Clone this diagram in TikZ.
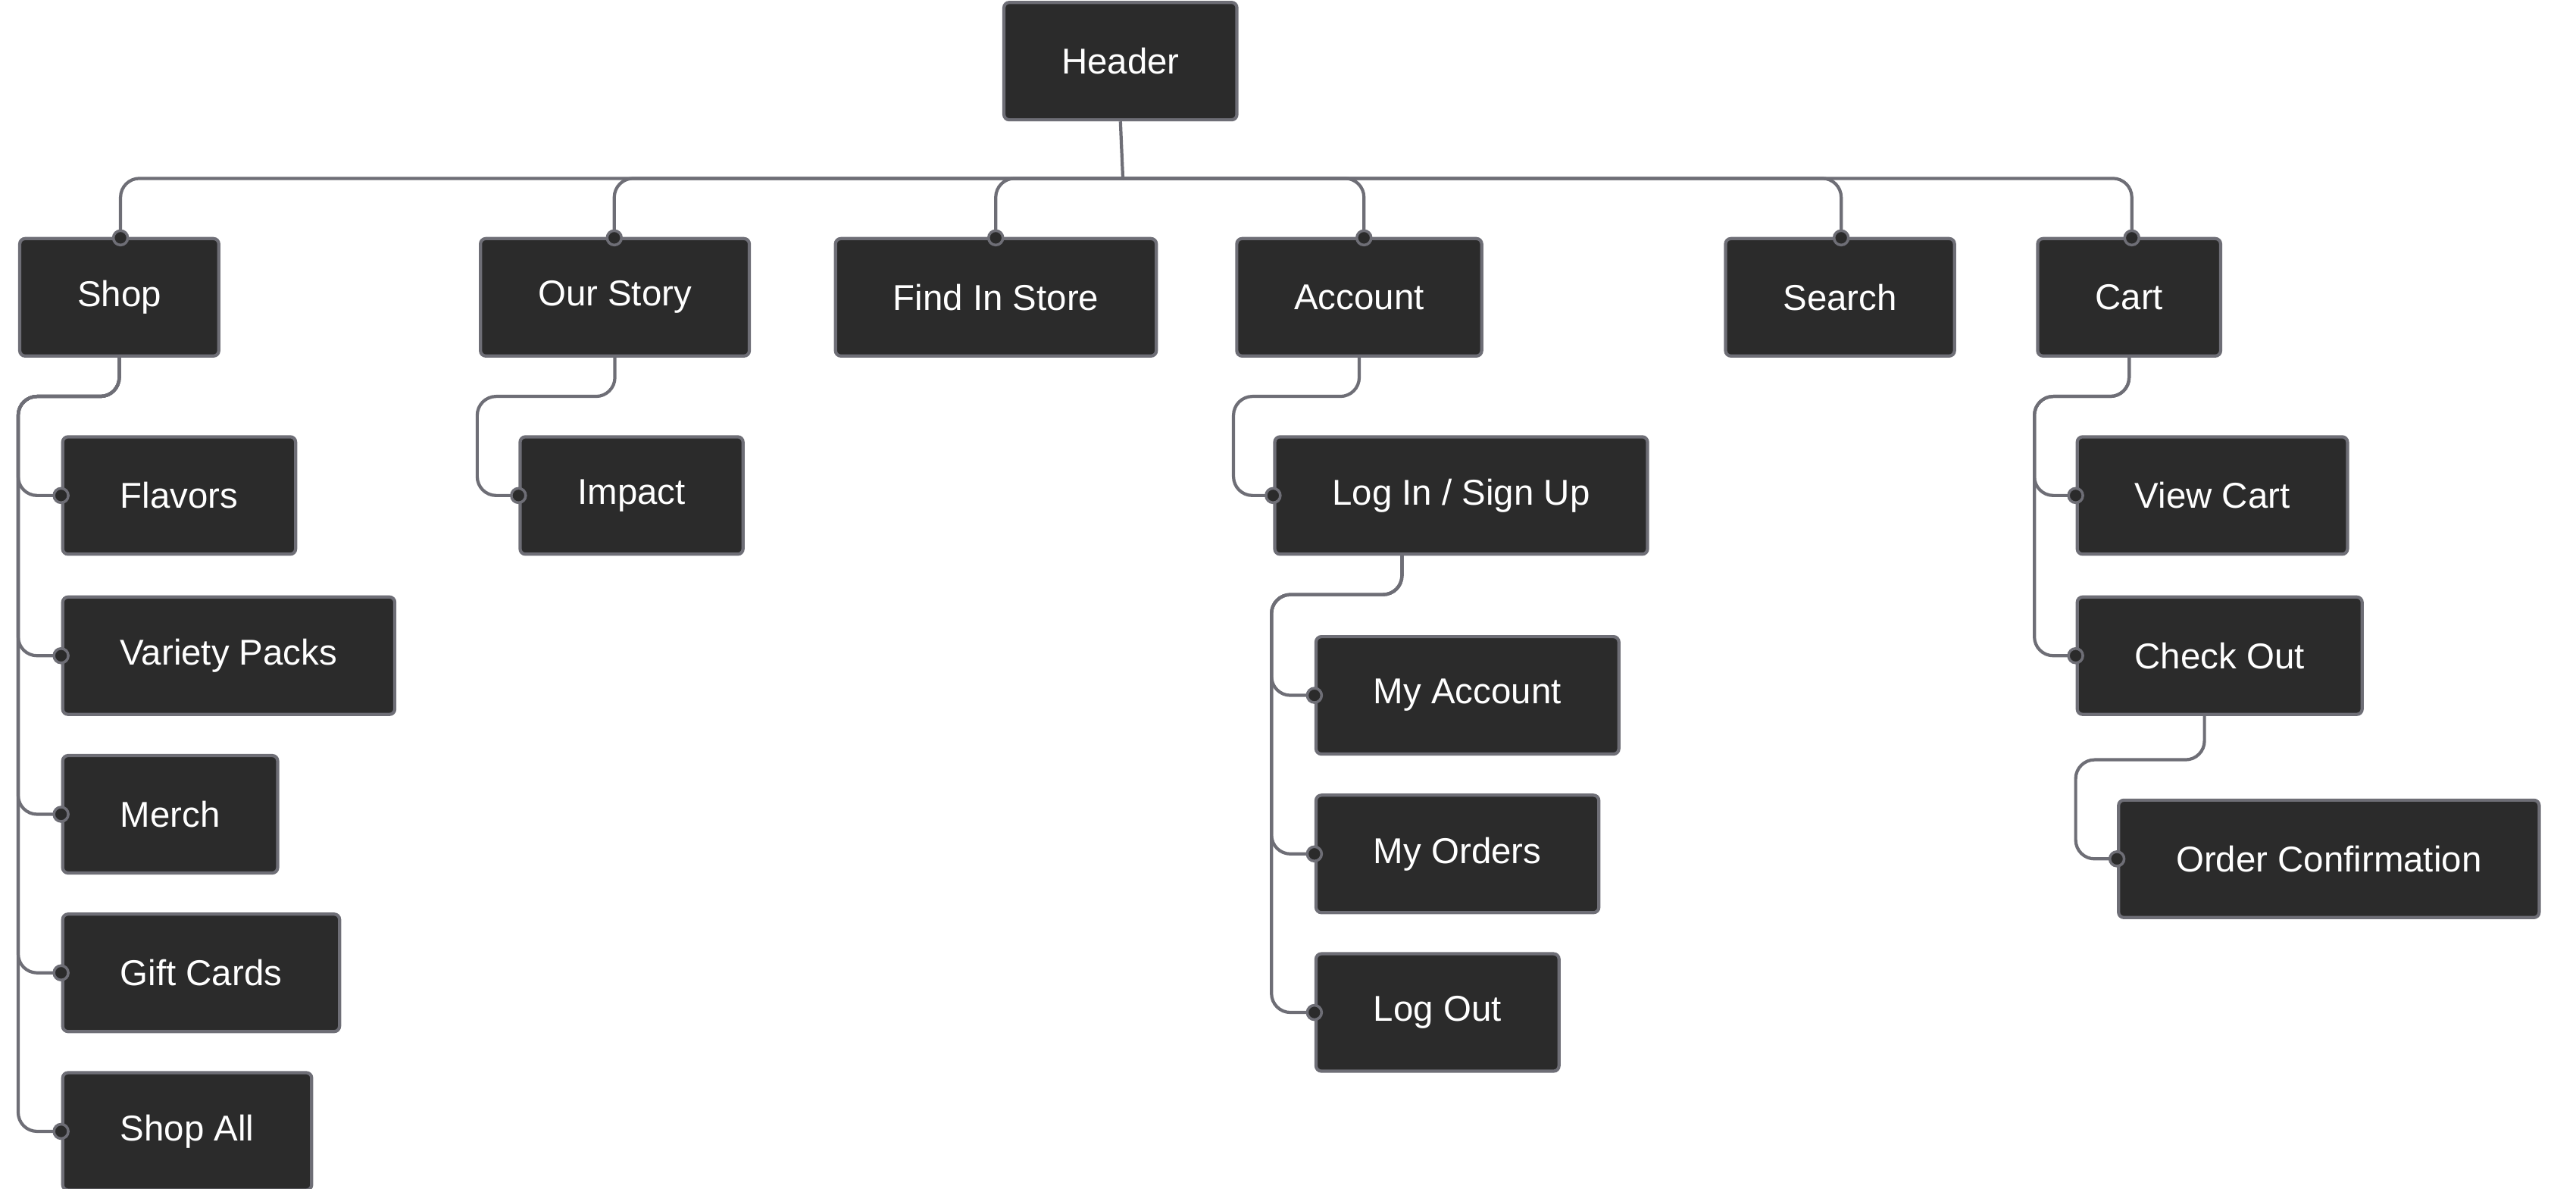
\documentclass[tikz,border=0pt]{standalone}
\usepackage{fontspec}
\setmainfont{Liberation Sans}
\usetikzlibrary{positioning}
\definecolor{boxfill}{HTML}{2B2B2B}
\definecolor{wire}{HTML}{6E6E76}
\begin{document}
\begin{tikzpicture}[x=0.0218cm, y=-0.0218cm,
    box/.style={draw=wire, fill=boxfill, text=white, line width=1.2pt, rounded corners=2pt,
        minimum height=1.55cm, inner xsep=0.76cm, anchor=west, font=\fontsize{13.5}{16}\selectfont},
    link/.style={draw=wire, line width=1.2pt, rounded corners=0.25cm},
    dot/.style={circle, fill=boxfill, draw=wire, line width=1pt, inner sep=0pt, minimum size=0.19cm}
    ]
\useasboundingbox (0,0) rectangle (1560,719.6);
% top level
\node[box] (hdr)   at (607,37)  {Header};
\node[box] (shop)  at (11,180)  {Shop};
\node[box] (story) at (290,180) {Our Story};
\node[box] (find)  at (505,180) {Find In Store};
\node[box] (acct)  at (748,180) {Account};
\node[box] (srch)  at (1044,180) {Search};
\node[box] (cart)  at (1233,180) {Cart};
% shop
\node[box] (flav)  at (37,300) {Flavors};
\node[box] (vpack) at (37,397) {Variety Packs};
\node[box] (merch) at (37,493) {Merch};
\node[box] (gift)  at (37,589) {Gift Cards};
\node[box] (all)   at (37,685) {Shop All};
% story
\node[box] (impact) at (314,300) {Impact};
% account
\node[box] (login)  at (771,300) {Log In / Sign Up};
\node[box] (myacct) at (796,421) {My Account};
\node[box] (orders) at (796,517) {My Orders};
\node[box] (logout) at (796,613) {Log Out};
% cart
\node[box] (view)  at (1257,300) {View Cart};
\node[box] (check) at (1257,397) {Check Out};
\node[box] (conf)  at (1282,520) {Order Confirmation};

% header bus
\coordinate (bus) at (680,108);
\draw[link] (hdr.south) -- (bus);
\foreach \c/\x in {shop/73, story/372, find/603, acct/826, srch/1115, cart/1291}{
  \coordinate (\c top) at (\x,144);
  \draw[link] (\c top) |- (bus);
  \node[dot] at (\c top) {};
}
% sub trees
\coordinate (shopT) at (11,240);
\foreach \c in {flav,vpack,merch,gift,all}{
  \draw[link] (shop.south) |- (shopT) |- (\c.west);
  \node[dot] at (\c.west) {};
}
\coordinate (storyT) at (289,240);
\draw[link] (story.south) |- (storyT) |- (impact.west);
\node[dot] at (impact.west) {};
\coordinate (acctT) at (747,240);
\draw[link] (acct.south) |- (acctT) |- (login.west);
\node[dot] at (login.west) {};
\coordinate (loginS) at (849,336);
\coordinate (loginT) at (770,360);
\foreach \c in {myacct,orders,logout}{
  \draw[link] (loginS) |- (loginT) |- (\c.west);
  \node[dot] at (\c.west) {};
}
\coordinate (cartT) at (1232,240);
\foreach \c in {view,check}{
  \draw[link] (cart.south) |- (cartT) |- (\c.west);
  \node[dot] at (\c.west) {};
}
\coordinate (checkS) at (1335,432);
\coordinate (checkT) at (1257,460);
\draw[link] (checkS) |- (checkT) |- (conf.west);
\node[dot] at (conf.west) {};
\end{tikzpicture}
\end{document}
